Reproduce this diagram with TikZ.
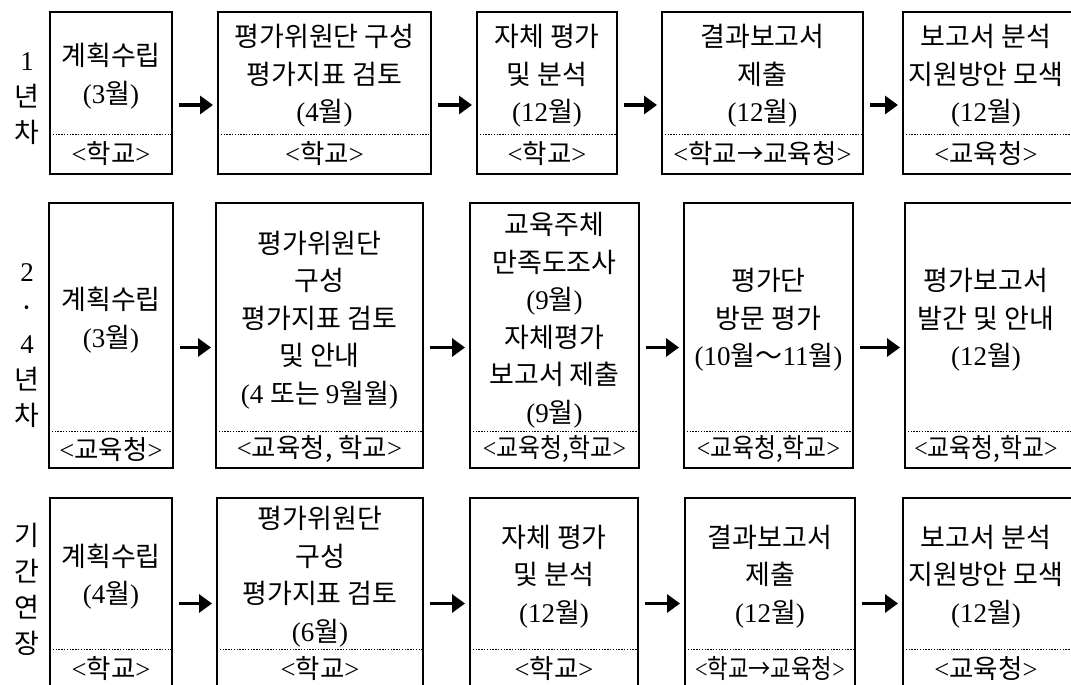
\documentclass[tikz,border=0pt]{standalone}
\usepackage{fontspec}
\usepackage{graphicx}
\setmainfont{Noto Sans CJK KR}
\newfontfamily\serf{Liberation Serif}
\newcommand\sr[1]{{\serf #1}}
\newcommand\squeeze[1]{\scalebox{0.9}[1]{#1}}
\usetikzlibrary{arrows.meta}

% #1 name, #2 x1, #3 x2, #4 ytop, #5 ydot, #6 ybot, #7 text, #8 label, #9 text centre x
\newcommand\stagebox[9]{%
  \node[box, minimum width={#3-#2}, minimum height={#6-#4}] (#1) at ({(#2+#3)/2},{(#4+#6)/2}) {};
  \draw[sepline] (#1.west |- 0,#5) -- (#1.east |- 0,#5);
  \node[txt] (#1t) at (#9,{(#4+#5)/2+3}) {#7};
  \node[lab] (#1l) at (#9,{(#5+#6)/2}) {#8};
}

\begin{document}
\begin{tikzpicture}[x=1pt,y=-1pt,
  box/.style={draw, line width=2.8pt, inner sep=0pt, outer sep=0pt},
  txt/.style={align=center, font=\fontsize{27}{37.5}\selectfont, inner sep=0pt},
  lab/.style={font=\fontsize{26.5}{30}\selectfont, inner sep=0pt},
  side/.style={align=center, font=\fontsize{27}{36}\selectfont, inner sep=0pt},
  sepline/.style={line width=0.8pt, dash pattern=on 1.4pt off 1.4pt},
  arr/.style={-{Triangle[length=13pt,width=18pt]}, line width=3.6pt, shorten <=7pt, shorten >=5pt},
]
\useasboundingbox (0,0) rectangle (1071,685);
\clip (0,0) rectangle (1071,685);

% side labels
\node[side] (s1) at (27,99) {\sr{1}\\년\\차};
\node[side] (s2) at (27,346) {\sr{2}\\·\\\sr{4}\\년\\차};
\node[side] (s3) at (27,589) {기\\간\\연\\장};

% row 1
\stagebox{a1}{50}{172}{12}{134}{174}{계획수립\\\sr{(3}월\sr{)}}{\sr{<}학교\sr{>}}{111}
\stagebox{a2}{218}{431}{12}{134}{174}{평가위원단 구성\\평가지표 검토\\\sr{(4}월\sr{)}}{\sr{<}학교\sr{>}}{324.5}
\stagebox{a3}{477}{617}{12}{134}{174}{자체 평가\\및 분석\\\sr{(12}월\sr{)}}{\sr{<}학교\sr{>}}{547}
\stagebox{a4}{662}{863}{12}{134}{174}{결과보고서\\제출\\\sr{(12}월\sr{)}}{\sr{<}학교→교육청\sr{>}}{762.5}
\stagebox{a5}{903}{1080}{12}{134}{174}{보고서 분석\\지원방안 모색\\\sr{(12}월\sr{)}}{\sr{<}교육청\sr{>}}{986}

% row 2
\stagebox{b1}{49}{173}{203}{431}{468}{계획수립\\\sr{(3}월\sr{)}}{\sr{<}교육청\sr{>}}{111}
\stagebox{b2}{216}{423}{203}{431}{468}{평가위원단\\구성\\평가지표 검토\\및 안내\\\sr{(4 }또는 \sr{9}월월\sr{)}}{\sr{<}교육청, 학교\sr{>}}{319.5}
\stagebox{b3}{470}{639}{203}{431}{468}{교육주체\\만족도조사\\\sr{(9}월\sr{)}\\자체평가\\보고서 제출\\\sr{(9}월\sr{)}}{\squeeze{\sr{<}교육청,학교\sr{>}}}{554.5}
\stagebox{b4}{684}{853}{203}{431}{468}{평가단\\방문 평가\\\sr{(10}월～\sr{11}월\sr{)}}{\squeeze{\sr{<}교육청,학교\sr{>}}}{768.5}
\stagebox{b5}{905}{1080}{203}{431}{468}{평가보고서\\발간 및 안내\\\sr{(12}월\sr{)}}{\squeeze{\sr{<}교육청,학교\sr{>}}}{986}

% row 3
\stagebox{c1}{50}{172}{498}{649}{689}{계획수립\\\sr{(4}월\sr{)}}{\sr{<}학교\sr{>}}{111}
\stagebox{c2}{217}{423}{498}{649}{689}{평가위원단\\구성\\평가지표 검토\\\sr{(6}월\sr{)}}{\sr{<}학교\sr{>}}{320}
\stagebox{c3}{470}{638}{498}{649}{689}{자체 평가\\및 분석\\\sr{(12}월\sr{)}}{\sr{<}학교\sr{>}}{554}
\stagebox{c4}{685}{855}{498}{649}{689}{결과보고서\\제출\\\sr{(12}월\sr{)}}{\scalebox{0.84}[1]{\sr{<}학교→교육청\sr{>}}}{770}
\stagebox{c5}{903}{1080}{498}{649}{689}{보고서 분석\\지원방안 모색\\\sr{(12}월\sr{)}}{\sr{<}교육청\sr{>}}{986}

% arrows
\foreach \r/\dy in {a/12, b/12, c/10}{
  \draw[arr] ([yshift=-\dy pt]\r1.east) -- ([yshift=-\dy pt]\r2.west);
  \draw[arr] ([yshift=-\dy pt]\r2.east) -- ([yshift=-\dy pt]\r3.west);
  \draw[arr] ([yshift=-\dy pt]\r3.east) -- ([yshift=-\dy pt]\r4.west);
  \draw[arr] ([yshift=-\dy pt]\r4.east) -- ([yshift=-\dy pt]\r5.west);
}
\end{tikzpicture}
\end{document}
